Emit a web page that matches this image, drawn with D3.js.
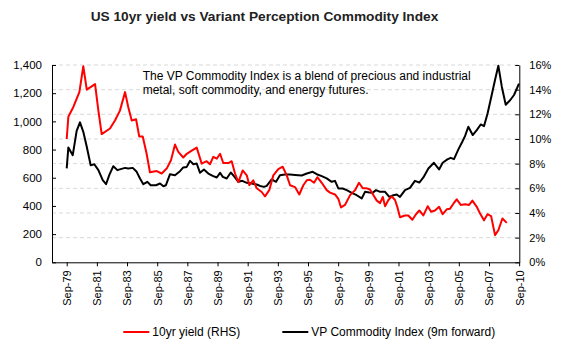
<!DOCTYPE html>
<html><head><meta charset="utf-8">
<script src="https://cdn.jsdelivr.net/npm/d3@7"></script>
<style>
body{margin:0;background:#fff;}
svg{font-family:"Liberation Sans",Arial,sans-serif;}
</style></head>
<body><svg id="c" width="572" height="351"></svg>
<script>
const title = "US 10yr yield vs Variant Perception Commodity Index";
const noteLines = ["The VP Commodity Index is a blend of precious and industrial",
                   "metal, soft commodity, and energy futures."];
const seriesNames = ["10yr yield (RHS)", "VP Commodity Index (9m forward)"];

const xTickDates = [1979.75,1981.75,1983.75,1985.75,1987.75,1989.75,1991.75,1993.75,1995.75,1997.75,1999.75,2001.75,2003.75,2005.75,2007.75,2009.75];
const xTickLabels = ["Sep-79","Sep-81","Sep-83","Sep-85","Sep-87","Sep-89","Sep-91","Sep-93","Sep-95","Sep-97","Sep-99","Sep-01","Sep-03","Sep-05","Sep-07","Sep-10"];
const leftTicks = [0,200,400,600,800,1000,1200,1400];
const rightTicks = [0,2,4,6,8,10,12,14,16];

const yieldDates = [1979.75,1979.86,1980.19,1980.59,1980.85,1981.08,1981.63,1981.85,1982.07,1982.62,1982.95,1983.28,1983.62,1983.83,1984.06,1984.35,1984.56,1984.79,1985.05,1985.27,1985.72,1986.05,1986.38,1986.67,1986.93,1987.15,1987.48,1987.71,1988.04,1988.37,1988.70,1989.03,1989.25,1989.47,1989.70,1989.92,1990.13,1990.47,1990.69,1990.91,1991.13,1991.42,1991.69,1991.86,1992.12,1992.35,1992.68,1992.90,1993.18,1993.45,1993.78,1994.07,1994.34,1994.56,1994.89,1995.17,1995.44,1995.67,1995.88,1996.15,1996.37,1996.66,1996.99,1997.21,1997.54,1997.76,1997.94,1998.20,1998.54,1998.87,1999.13,1999.38,1999.64,1999.86,2000.08,2000.31,2000.53,2000.71,2000.86,2001.08,2001.30,2001.52,2001.67,2001.85,2002.18,2002.40,2002.67,2002.91,2003.13,2003.40,2003.69,2003.91,2004.17,2004.44,2004.68,2004.95,2005.17,2005.39,2005.61,2005.88,2006.16,2006.43,2006.65,2006.94,2007.16,2007.42,2007.65,2007.89,2008.15,2008.37,2008.64,2008.93];
const yieldValues = [10.0,11.8,12.6,13.8,15.9,14.0,14.45,12.3,10.4,10.85,11.5,12.3,13.8,12.6,11.5,11.6,10.2,10.2,8.8,7.3,7.4,7.2,7.6,8.3,9.55,8.95,8.5,8.8,9.05,9.3,8.0,8.2,7.95,8.55,8.4,8.8,8.05,8.05,8.2,7.2,6.5,7.45,7.05,6.25,6.65,6.0,5.7,5.35,5.85,7.05,7.55,7.75,7.05,6.25,6.1,5.5,6.25,6.65,6.7,6.45,6.9,6.45,5.85,5.65,5.5,5.15,4.45,4.65,5.45,5.85,6.45,6.0,6.0,5.9,5.45,5.0,4.8,5.3,4.55,5.05,5.35,5.05,4.5,3.65,3.8,3.8,3.45,3.9,4.2,3.8,4.55,4.1,4.2,4.5,3.9,4.3,4.35,4.75,5.1,4.65,4.7,4.65,5.0,4.5,3.95,3.4,3.9,3.75,2.2,2.6,3.55,3.2];

const vpDates = [1979.75,1979.86,1980.15,1980.41,1980.63,1980.85,1981.08,1981.34,1981.58,1981.85,1982.14,1982.36,1982.57,1982.84,1983.11,1983.33,1983.62,1983.83,1984.13,1984.39,1984.61,1984.83,1985.10,1985.32,1985.67,1985.94,1986.16,1986.33,1986.60,1986.93,1987.22,1987.48,1987.71,1987.93,1988.15,1988.37,1988.59,1988.85,1989.14,1989.43,1989.70,1989.92,1990.10,1990.36,1990.63,1990.84,1991.13,1991.39,1991.69,1992.02,1992.35,1992.57,1992.83,1993.01,1993.34,1993.63,1993.89,1994.22,1994.56,1994.89,1995.33,1995.67,1996.06,1996.33,1996.66,1996.99,1997.32,1997.54,1997.76,1998.05,1998.32,1998.65,1998.98,1999.31,1999.53,1999.82,2000.04,2000.26,2000.53,2000.86,2001.14,2001.41,2001.63,2001.85,2002.18,2002.51,2002.84,2003.13,2003.40,2003.73,2004.10,2004.44,2004.68,2004.99,2005.21,2005.43,2005.72,2005.98,2006.16,2006.38,2006.67,2006.94,2007.20,2007.42,2007.66,2007.93,2008.15,2008.37,2008.60,2008.86,2009.15,2009.41,2009.74];
const vpValues = [666,815,760,933,993,926,820,689,696,654,583,554,618,682,654,661,670,666,670,642,595,554,571,547,547,559,540,547,625,618,642,673,677,720,696,701,635,659,630,613,602,635,606,595,637,611,571,578,564,559,552,542,535,542,588,571,618,623,623,620,616,630,642,625,611,595,571,578,524,524,512,493,476,453,500,495,493,512,500,500,464,476,481,464,512,528,578,566,602,666,706,659,706,730,741,732,801,855,895,962,903,938,978,966,1057,1187,1293,1395,1246,1118,1150,1187,1268];

const svg = d3.select("#c");
const L = 52, R = 519.3, T = 65, B = 262.3;

const x = d3.scaleLinear().domain([1978.775, 2009.76]).range([L, R]);
const yL = d3.scaleLinear().domain([0, 1400]).range([B, T]);
const yR = d3.scaleLinear().domain([0, 16]).range([B, T]);

// gridlines
svg.append("g").selectAll("line").data(rightTicks.filter(d => d > 0)).join("line")
  .attr("x1", L).attr("x2", R).attr("y1", d => yR(d)).attr("y2", d => yR(d))
  .attr("stroke", "#d9d9d9").attr("stroke-width", 1).attr("stroke-dasharray", "4,3");

// axes
const fmtL = d3.format(",");
const gL = svg.append("g").attr("transform", `translate(${L},0)`)
  .call(d3.axisLeft(yL).tickValues(leftTicks).tickFormat(fmtL).tickSizeInner(-4).tickSizeOuter(0).tickPadding(10));
const gR = svg.append("g").attr("transform", `translate(${R},0)`)
  .call(d3.axisRight(yR).tickValues(rightTicks).tickFormat(d => d + "%").tickSizeInner(-4).tickSizeOuter(0).tickPadding(10));
const gX = svg.append("g").attr("transform", `translate(0,${B})`)
  .call(d3.axisBottom(x).tickValues(xTickDates).tickFormat((d, i) => xTickLabels[i]).tickSizeInner(4).tickSizeOuter(0).tickPadding(6));
gX.selectAll("text").attr("transform", "rotate(-90)").attr("text-anchor", "end")
  .attr("x", -8).attr("y", 0).attr("dy", "0.35em");
[gL, gR, gX].forEach(g => {
  g.selectAll("text").attr("font-size", 11).attr("fill", "#000").attr("font-family", "'Liberation Sans', Arial, sans-serif");
  g.selectAll("line").attr("stroke", "#000");
  g.select(".domain").attr("stroke", "#000");
});
gL.selectAll("text").attr("font-size", 11.5);

// lines
const lineY = d3.line().x(d => x(d[0])).y(d => yR(d[1]));
const lineV = d3.line().x(d => x(d[0])).y(d => yL(d[1]));
svg.append("path").datum(vpDates.map((d, i) => [d, vpValues[i]]))
  .attr("d", lineV).attr("fill", "none").attr("stroke", "#000").attr("stroke-width", 2).attr("stroke-linejoin", "round");
svg.append("path").datum(yieldDates.map((d, i) => [d, yieldValues[i]]))
  .attr("d", lineY).attr("fill", "none").attr("stroke", "#ff0000").attr("stroke-width", 2).attr("stroke-linejoin", "round");

// title
svg.append("text").attr("x", 264.5).attr("y", 20.5).attr("text-anchor", "middle")
  .attr("font-size", 13.7).attr("font-weight", "bold").attr("fill", "#222").text(title);

// note
svg.append("g").selectAll("text").data(noteLines).join("text")
  .attr("x", 142.7).attr("y", (d, i) => 79.5 + i * 14)
  .attr("font-size", 12).attr("fill", "#000").text(d => d);

// legend
const legend = [{name: seriesNames[0], color: "#ff0000", x: 123.3}, {name: seriesNames[1], color: "#000", x: 282.3}];
const lg = svg.append("g").selectAll("g").data(legend).join("g").attr("transform", d => `translate(${d.x},332)`);
lg.append("line").attr("x1", 0).attr("x2", 26).attr("y1", 0).attr("y2", 0).attr("stroke", d => d.color).attr("stroke-width", 2);
lg.append("text").attr("x", 29).attr("y", 0).attr("dy", "0.35em").attr("font-size", 12).attr("fill", "#000").text(d => d.name);
</script></body></html>
